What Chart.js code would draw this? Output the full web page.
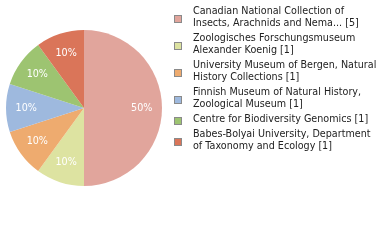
<!DOCTYPE html>
<html>
<head>
<meta charset="utf-8">
<script src="https://cdn.jsdelivr.net/npm/chart.js@4"></script>
<style>
  html, body { margin: 0; padding: 0; background: #fff; }
  #wrap { position: relative; width: 380px; height: 240px; }
</style>
</head>
<body>
<div id="wrap"><canvas id="pieChart" width="380" height="240"></canvas></div>
<script>
// institutions, each label split into its legend lines
const labelLines = [
  ['Canadian National Collection of', 'Insects, Arachnids and Nema... [5]'],
  ['Zoologisches Forschungsmuseum', 'Alexander Koenig [1]'],
  ['University Museum of Bergen, Natural', 'History Collections [1]'],
  ['Finnish Museum of Natural History,', 'Zoological Museum [1]'],
  ['Centre for Biodiversity Genomics [1]'],
  ['Babes-Bolyai University, Department', 'of Taxonomy and Ecology [1]']
];
const counts = [5, 1, 1, 1, 1, 1];
const sliceColors = ['#e1a59c', '#dde3a1', '#eeab6f', '#9eb9de', '#9dc471', '#da7559'];

const FONT = '9.6px "DejaVu Sans", sans-serif';

// percentage labels inside the slices
const sliceLabels = {
  id: 'sliceLabels',
  afterDatasetsDraw(chart) {
    const ctx = chart.ctx;
    const meta = chart.getDatasetMeta(0);
    const total = counts.reduce((a, b) => a + b, 0);
    ctx.save();
    ctx.font = FONT;
    ctx.fillStyle = '#ffffff';
    ctx.textAlign = 'center';
    ctx.textBaseline = 'middle';
    meta.data.forEach((arc, i) => {
      const p = arc.getProps(['x', 'y', 'startAngle', 'endAngle', 'outerRadius']);
      const mid = (p.startAngle + p.endAngle) / 2;
      const r = p.outerRadius * 0.74;
      const pct = Math.round(counts[i] / total * 100) + '%';
      ctx.fillText(pct, p.x + Math.cos(mid) * r, p.y + Math.sin(mid) * r);
    });
    ctx.restore();
  }
};

// legend on the right, two-line entries
const sideLegend = {
  id: 'sideLegend',
  afterDraw(chart) {
    const ctx = chart.ctx;
    const lineH = 12;
    let y = 7;
    ctx.save();
    ctx.font = FONT;
    ctx.textBaseline = 'top';
    labelLines.forEach((lines, i) => {
      const h = lines.length * lineH;
      const boxY = Math.round(y + h / 2 - 4);
      ctx.fillStyle = sliceColors[i];
      ctx.fillRect(174, boxY, 8, 8);
      ctx.strokeStyle = '#8a8a8a';
      ctx.lineWidth = 1;
      ctx.strokeRect(174.5, boxY + 0.5, 7, 7);
      ctx.fillStyle = '#222222';
      lines.forEach((t, j) => ctx.fillText(t, 193, y + j * lineH));
      y += h + 3;
    });
    ctx.restore();
  }
};

new Chart(document.getElementById('pieChart'), {
  type: 'pie',
  data: {
    labels: labelLines.map(l => l.join(' ')),
    datasets: [{
      data: counts,
      backgroundColor: sliceColors,
      borderWidth: 0
    }]
  },
  options: {
    responsive: false,
    animation: false,
    layout: { padding: { left: 6, top: 30, right: 218, bottom: 54 } },
    plugins: {
      legend: { display: false },
      tooltip: { enabled: false }
    }
  },
  plugins: [sliceLabels, sideLegend]
});
</script>
</body>
</html>
